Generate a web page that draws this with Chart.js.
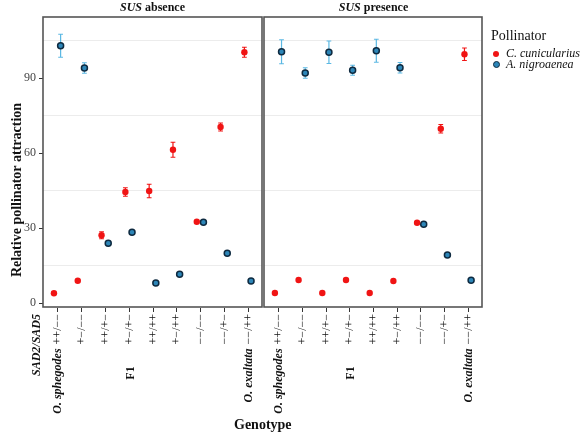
<!DOCTYPE html>
<html>
<head>
<meta charset="utf-8">
<script src="https://cdn.jsdelivr.net/npm/chart.js@4.4.1/dist/chart.umd.min.js"></script>
<style>
  body { margin: 0; background: #fff; font-family: "Liberation Serif", serif; }
  #wrap { position: relative; width: 581px; height: 435px; }
  canvas { position: absolute; left: 0; top: 0; }
  .txt { position: absolute; color: #111; white-space: nowrap; }
  .strip { top: 0; width: 219px; text-align: center; font-size: 12px; font-weight: bold; }
  .dot { position: absolute; width: 6px; height: 6px; border-radius: 50%; }
</style>
</head>
<body>
<div id="wrap">
  <canvas id="absence" width="581" height="435"></canvas>
  <canvas id="presence" width="581" height="435"></canvas>
  <div class="txt strip" style="left:43px;"><i>SUS</i> absence</div>
  <div class="txt strip" style="left:264px;"><i>SUS</i> presence</div>
  <div class="txt" style="left:491px; top:28px; font-size:14px;">Pollinator</div>
  <div class="dot" style="left:493px; top:51px; background:#f01414;"></div>
  <div class="txt" style="left:506px; top:46px; font-size:12px; font-style:italic;">C. cunicularius</div>
  <div class="dot" style="left:493px; top:61px; background:#2d86b8; border:1px solid #0e2a40; width:5px; height:5px;"></div>
  <div class="txt" style="left:506px; top:57px; font-size:12px; font-style:italic;">A. nigroaenea</div>
  <div class="txt" style="left:234px; top:417px; font-size:14px; font-weight:bold;">Genotype</div>
</div>
<script>
// genotype categories (same in both panels)
var categories = ["++/\u2212\u2212", "+\u2212/\u2212\u2212", "++/+\u2212", "+\u2212/+\u2212", "++/++", "+\u2212/++", "\u2212\u2212/\u2212\u2212", "\u2212\u2212/+\u2212", "\u2212\u2212/++"];
var species = ["O. sphegodes", "", "", "", "", "", "", "", "O. exaltata"];

// SUS absence
var absenceCun = [4.0, 9.0, 27.2, 44.5, 44.9, 61.4, 32.6, 70.5, 100.4];
var absenceCunErr = [0.5, 0.5, 1.4, 1.7, 2.7, 3.0, 0.5, 1.6, 2.0];
var absenceNig = [103.0, 94.1, 24.0, 28.4, 8.1, 11.6, 32.4, 20.0, 8.9];
var absenceNigErr = [4.6, 2.1, 1.0, 0.5, 0.5, 0.5, 0.5, 0.5, 0.5];

// SUS presence
var presenceCun = [4.1, 9.3, 4.1, 9.3, 4.1, 8.9, 32.2, 69.8, 99.6];
var presenceCunErr = [0.3, 0.3, 0.3, 0.3, 0.3, 0.3, 0.5, 1.7, 2.5];
var presenceNig = [100.6, 92.1, 100.4, 93.2, 101.0, 94.2, 31.6, 19.3, 9.2];
var presenceNigErr = [4.8, 2.1, 4.5, 2.0, 4.6, 2.1, 0.5, 0.5, 0.5];

var yTicks = [0, 30, 60, 90];
var yMin = -1.5, yMax = 114.5;

var FONT = '"Liberation Serif", "Times New Roman", serif';
var dodge = 0.14;

function toPoints(values, offset) {
  return values.map(function (v, i) { return { x: i + 1 + offset, y: v }; });
}

// error bars drawn under the points
var errorBars = {
  id: "errorBars",
  beforeDatasetsDraw: function (chart) {
    var ctx = chart.ctx, ys = chart.scales.y, xs = chart.scales.x;
    var cap = xs.getPixelForValue(1.1) - xs.getPixelForValue(1);
    chart.data.datasets.forEach(function (ds, di) {
      var meta = chart.getDatasetMeta(di);
      ctx.save();
      ctx.strokeStyle = ds.errColor;
      ctx.lineWidth = 1.2;
      meta.data.forEach(function (pt, i) {
        var v = ds.data[i].y, e = ds.errors[i];
        var y1 = ys.getPixelForValue(v + e), y2 = ys.getPixelForValue(v - e);
        ctx.beginPath();
        ctx.moveTo(pt.x, y1); ctx.lineTo(pt.x, y2);
        ctx.moveTo(pt.x - cap, y1); ctx.lineTo(pt.x + cap, y1);
        ctx.moveTo(pt.x - cap, y2); ctx.lineTo(pt.x + cap, y2);
        ctx.stroke();
      });
      ctx.restore();
    });
  }
};

// panel frame and rotated x labels
function frameAndLabels(showSad) {
  return {
    id: "frameAndLabels",
    afterDraw: function (chart) {
      var ctx = chart.ctx, a = chart.chartArea, xs = chart.scales.x;
      ctx.save();
      ctx.strokeStyle = "#555";
      ctx.lineWidth = 1.6;
      ctx.strokeRect(a.left, a.top, a.right - a.left, a.bottom - a.top);
      ctx.strokeStyle = "#333";
      ctx.lineWidth = 1;
      ctx.fillStyle = "#111";
      categories.forEach(function (c, i) {
        var x = Math.round(xs.getPixelForValue(i + 1)) + 0.5;
        ctx.beginPath();
        ctx.moveTo(x, a.bottom + 1); ctx.lineTo(x, a.bottom + 5);
        ctx.stroke();
        ctx.save();
        ctx.translate(x, a.bottom + 7);
        ctx.rotate(-Math.PI / 2);
        ctx.textAlign = "right";
        ctx.textBaseline = "middle";
        ctx.font = "12px " + FONT;
        ctx.fillText(c, 0, 0);
        var w = ctx.measureText(c).width;
        if (species[i]) {
          ctx.font = "bold italic 12px " + FONT;
          ctx.fillText(species[i], -w - 4, 0);
        }
        ctx.restore();
      });
      // F1 group label
      ctx.save();
      ctx.translate(xs.getPixelForValue(4) + 2, 373);
      ctx.rotate(-Math.PI / 2);
      ctx.textAlign = "center";
      ctx.textBaseline = "middle";
      ctx.font = "bold 12px " + FONT;
      ctx.fillText("F1", 0, 0);
      ctx.restore();
      if (showSad) {
        ctx.save();
        ctx.translate(a.left - 6, a.bottom + 7);
        ctx.rotate(-Math.PI / 2);
        ctx.textAlign = "right";
        ctx.textBaseline = "middle";
        ctx.font = "bold italic 12px " + FONT;
        ctx.fillText("SAD2/SAD5", 0, 0);
        ctx.restore();
        // y axis title
        ctx.save();
        ctx.translate(17, 190);
        ctx.rotate(-Math.PI / 2);
        ctx.textAlign = "center";
        ctx.textBaseline = "middle";
        ctx.font = "bold 14px " + FONT;
        ctx.fillText("Relative pollinator attraction", 0, 0);
        ctx.restore();
      }
      ctx.restore();
    }
  };
}

function makePanel(id, cun, cunErr, nig, nigErr, padding, showY) {
  var ctx = document.getElementById(id).getContext("2d");
  return new Chart(ctx, {
    type: "scatter",
    data: {
      datasets: [
        {
          label: "C. cunicularius",
          data: toPoints(cun, -dodge),
          errors: cunErr,
          errColor: "#f01414",
          backgroundColor: "#f01414",
          borderColor: "#f01414",
          borderWidth: 0,
          pointRadius: 3.2
        },
        {
          label: "A. nigroaenea",
          data: toPoints(nig, dodge),
          errors: nigErr,
          errColor: "#5bb8e3",
          backgroundColor: "#2d86b8",
          borderColor: "#0e2a40",
          borderWidth: 1.5,
          pointRadius: 3
        }
      ]
    },
    options: {
      responsive: false,
      animation: false,
      layout: { padding: padding },
      plugins: { legend: { display: false }, tooltip: { enabled: false } },
      scales: {
        x: { type: "linear", min: 0.4, max: 9.6, display: false },
        y: {
          min: yMin,
          max: yMax,
          border: { display: false },
          afterFit: function (s) { s.width = showY ? 43 : 0; },
          grid: {
            color: function (c) { return c.tick && c.tick.value % 30 === 15 ? "#ececec" : "rgba(0,0,0,0)"; },
            lineWidth: 1,
            drawTicks: showY,
            tickLength: 4,
            tickColor: function (c) { return c.tick && yTicks.indexOf(c.tick.value) >= 0 ? "#333" : "rgba(0,0,0,0)"; }
          },
          ticks: {
            display: showY,
            stepSize: 15,
            includeBounds: false,
            padding: 3,
            color: "#444",
            font: { family: FONT, size: 12 },
            callback: function (v) { return yTicks.indexOf(v) >= 0 ? v : ""; }
          }
        }
      }
    },
    plugins: [errorBars, frameAndLabels(showY)]
  });
}

makePanel("absence", absenceCun, absenceCunErr, absenceNig, absenceNigErr,
  { left: 0, right: 319, top: 17, bottom: 128 }, true);
makePanel("presence", presenceCun, presenceCunErr, presenceNig, presenceNigErr,
  { left: 264, right: 99, top: 17, bottom: 128 }, false);
</script>
</body>
</html>
